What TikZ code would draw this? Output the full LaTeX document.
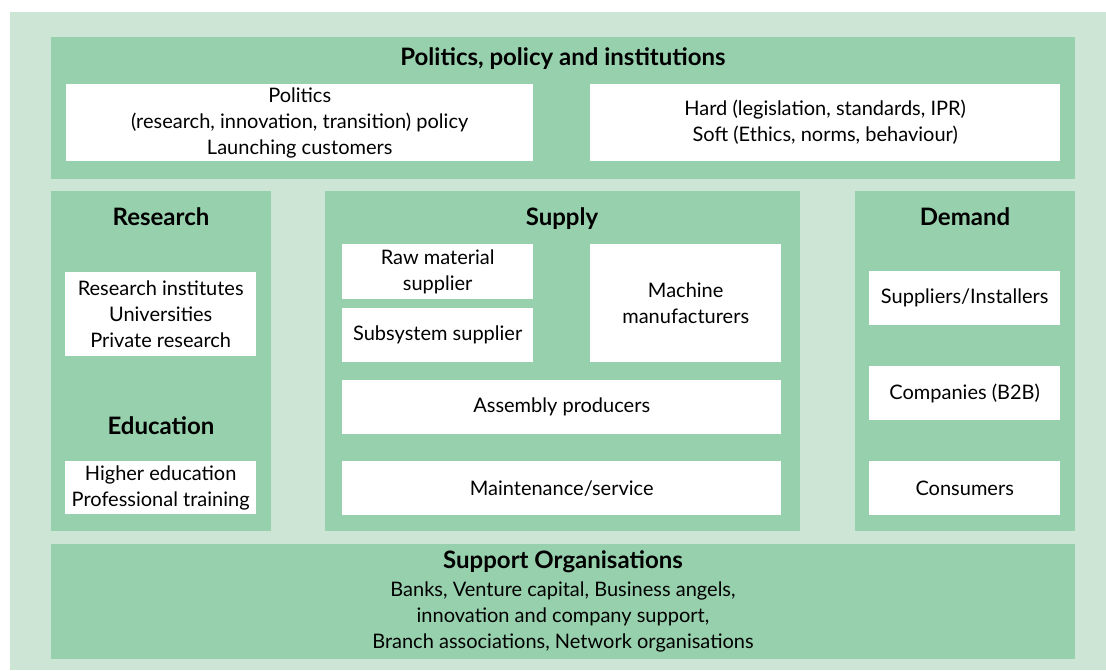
\documentclass[tikz,border=0pt]{standalone}
\usepackage{fontspec}
\setmainfont{Lato}
\definecolor{bgGreen}{RGB}{204,229,213}
\definecolor{panelGreen}{RGB}{151,208,172}
\tikzset{
  panel/.style={fill=panelGreen, anchor=north west, inner sep=0pt},
  item/.style={fill=white, anchor=north west, inner sep=0pt, align=center,
    font=\fontsize{20}{26}\selectfont},
  heading/.style={font=\bfseries\fontsize{24}{28}\selectfont},
  plain/.style={align=center, font=\fontsize{20}{26}\selectfont}
}
\begin{document}
\begin{tikzpicture}[x=1pt, y=-1pt]
  \useasboundingbox (0,0) rectangle (1106,670);
  \fill[bgGreen] (10,12) rectangle (1106,670);

  % politics
  \node[panel, minimum width=1024pt, minimum height=142pt] (Politics) at (51,37) {};
  \node[heading] (PoliticsTitle) at (563,59) {Politics, policy and institutions};
  \node[item, minimum width=467pt, minimum height=77pt] (Policy) at (66,84)
    {Politics\\(research, innovation, transition) policy\\Launching customers};
  \node[item, minimum width=470pt, minimum height=77pt] (Institutions) at (590,84)
    {Hard (legislation, standards, IPR)\\Soft (Ethics, norms, behaviour)};

  % research and education
  \node[panel, minimum width=220pt, minimum height=340pt] (Research) at (51,191) {};
  \node[heading] (ResearchTitle) at (161,217) {Research};
  \node[item, minimum width=191pt, minimum height=84pt] (Institutes) at (65,272)
    {Research institutes\\Universities\\Private research};
  \node[heading] (EducationTitle) at (161,426) {Education};
  \node[item, minimum width=191pt, minimum height=53pt] (Training) at (65,461)
    {Higher education\\Professional training};

  % supply
  \node[panel, minimum width=475pt, minimum height=340pt] (Supply) at (325,191) {};
  \node[heading] (SupplyTitle) at (562,219) {Supply};
  \node[item, minimum width=191pt, minimum height=55pt] (RawMaterial) at (342,244)
    {Raw material\\supplier};
  \node[item, minimum width=191pt, minimum height=54pt] (Subsystem) at (342,308)
    {Subsystem supplier};
  \node[item, minimum width=191pt, minimum height=118pt] (Machine) at (590,244)
    {Machine\\manufacturers};
  \node[item, minimum width=439pt, minimum height=54pt] (Assembly) at (342,380)
    {Assembly producers};
  \node[item, minimum width=439pt, minimum height=54pt] (Maintenance) at (342,461)
    {Maintenance/service};

  % demand
  \node[panel, minimum width=220pt, minimum height=340pt] (Demand) at (855,191) {};
  \node[heading] (DemandTitle) at (965,217) {Demand};
  \node[item, minimum width=191pt, minimum height=54pt] (Installers) at (869,271)
    {Suppliers/Installers};
  \node[item, minimum width=191pt, minimum height=54pt] (Companies) at (869,366)
    {Companies (B2B)};
  \node[item, minimum width=191pt, minimum height=54pt] (Consumers) at (869,461)
    {Consumers};

  % support
  \node[panel, minimum width=1024pt, minimum height=115pt] (Support) at (51,544) {};
  \node[heading] (SupportTitle) at (563,562) {Support Organisations};
  \node[plain, anchor=north] (SupportText) at (563,578)
    {Banks, Venture capital, Business angels,\\innovation and company support,\\Branch associations, Network organisations};
\end{tikzpicture}
\end{document}
